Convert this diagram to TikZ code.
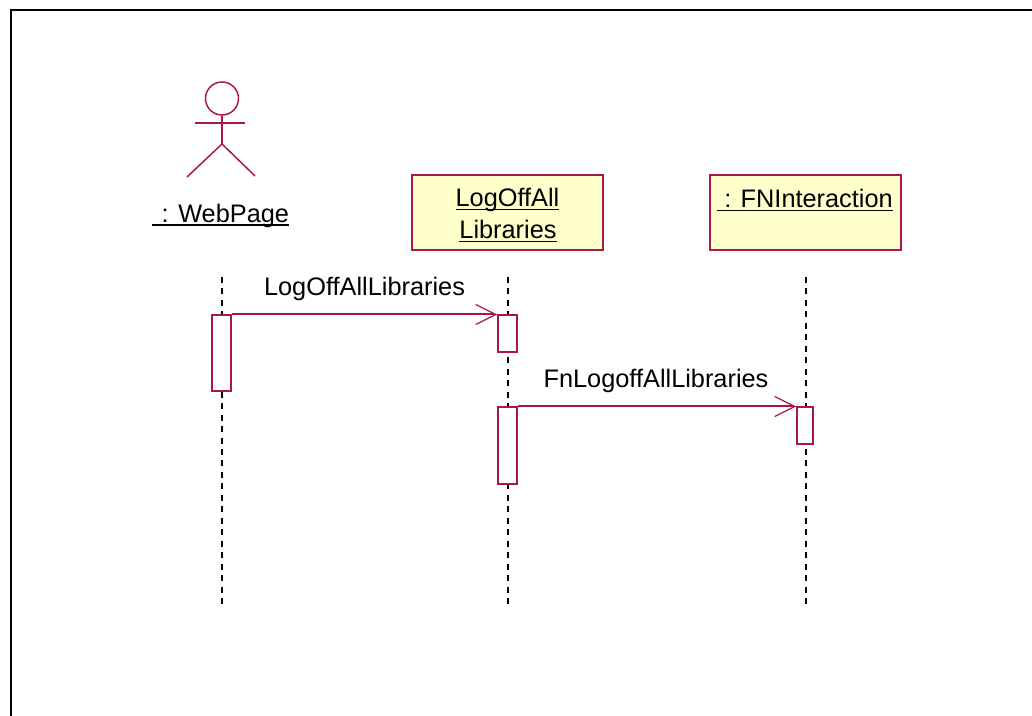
\documentclass[tikz,border=0pt]{standalone}
\usepackage{fontspec}
\setmainfont{Liberation Sans}
\usetikzlibrary{arrows.meta}
\definecolor{umlline}{HTML}{A8164C}
\definecolor{umlfill}{HTML}{FFFFCC}
\newcommand{\ultext}[1]{\setbox0\hbox{#1}\rlap{\rule[-2.6pt]{\wd0}{0.9pt}}\box0}
\tikzset{
  frameline/.style={line width=1.5pt,black,line cap=rect},
  objbox/.style={draw=umlline,fill=umlfill,line width=1.3pt,minimum width=143.25pt,minimum height=56.25pt,inner sep=0pt,anchor=north west},
  objtext/.style={text=black,font=\fontsize{19}{24}\selectfont,inner sep=0pt},
  msgtext/.style={text=black,font=\fontsize{19}{24}\selectfont,inner sep=0pt},
  lifeline/.style={black,line width=1.1pt,dash pattern=on 4.5pt off 4.1pt},
  actorline/.style={umlline,line width=1.1pt},
  activation/.style={draw=umlline,fill=white,line width=1.2pt,inner sep=0pt,anchor=north west,minimum width=14.25pt},
  message/.style={umlline,line width=1.5pt,-{Straight Barb[length=15pt,width=15pt,line width=0.9pt]}},
}
\begin{document}
\begin{tikzpicture}[x=0.75pt,y=-0.75pt]
\useasboundingbox (0,0) rectangle (1032,716);
\fill[white] (0,0) rectangle (1032,716);
% frame
\draw[frameline] (11,716) -- (11,10.5) -- (1032,10.5);
% object boxes
\node[objbox] (logoffbox) at (411,174) {};
\node[objbox] (fnbox) at (709,174) {};
\node[objtext] (logoff1) at (507.5,200) {\ultext{LogOffAll}};
\node[objtext] (logoff2) at (508,231.5) {\ultext{Libraries}};
\node[objtext] (fntext) at (805,200) {\ultext{\ : FNInteraction}};
% actor
\node[draw=umlline,line width=1.1pt,circle,minimum size=24.75pt,inner sep=0pt] (head) at (222,98.5) {};
\coordinate (hip) at (222,144);
\coordinate (armL) at (195,123);
\coordinate (armR) at (245,123);
\coordinate (legL) at (187,177);
\coordinate (legR) at (255,176);
\draw[actorline] (head.south) -- (hip);
\draw[actorline] (armL) -- (armR);
\draw[actorline] (legL) -- (hip) -- (legR);
\node[objtext] (actorname) at (220.5,215.5) {\ultext{\ \kern2pt:\kern-2pt\ \,\kern0.75pt WebPage}};
% lifelines
\coordinate (lifeAtop) at (222,277);
\coordinate (lifeAbot) at (222,605);
\coordinate (lifeBtop) at (508,277);
\coordinate (lifeBbot) at (508,605);
\coordinate (lifeCtop) at (806,277);
\coordinate (lifeCbot) at (806,605);
\draw[lifeline] (lifeAtop) -- (lifeAbot);
\draw[lifeline] (lifeBtop) -- (lifeBbot);
\draw[lifeline] (lifeCtop) -- (lifeCbot);
% activations
\node[activation,minimum height=57pt] (actA) at (211,314.5) {};
\node[activation,minimum height=27.5pt] (actB) at (497,314.5) {};
\node[activation,minimum height=57.5pt] (actC) at (497,406.5) {};
\node[activation,minimum width=12pt,minimum height=27.5pt] (actD) at (796,406.5) {};
% messages
\draw[message] (actA.north east) -- (actB.north west);
\draw[message] (actC.north east) -- (actD.north west);
\node[msgtext] (msg1) at (364.5,289) {LogOffAllLibraries};
\node[msgtext] (msg2) at (656,381) {FnLogoffAllLibraries};
\end{tikzpicture}
\end{document}
